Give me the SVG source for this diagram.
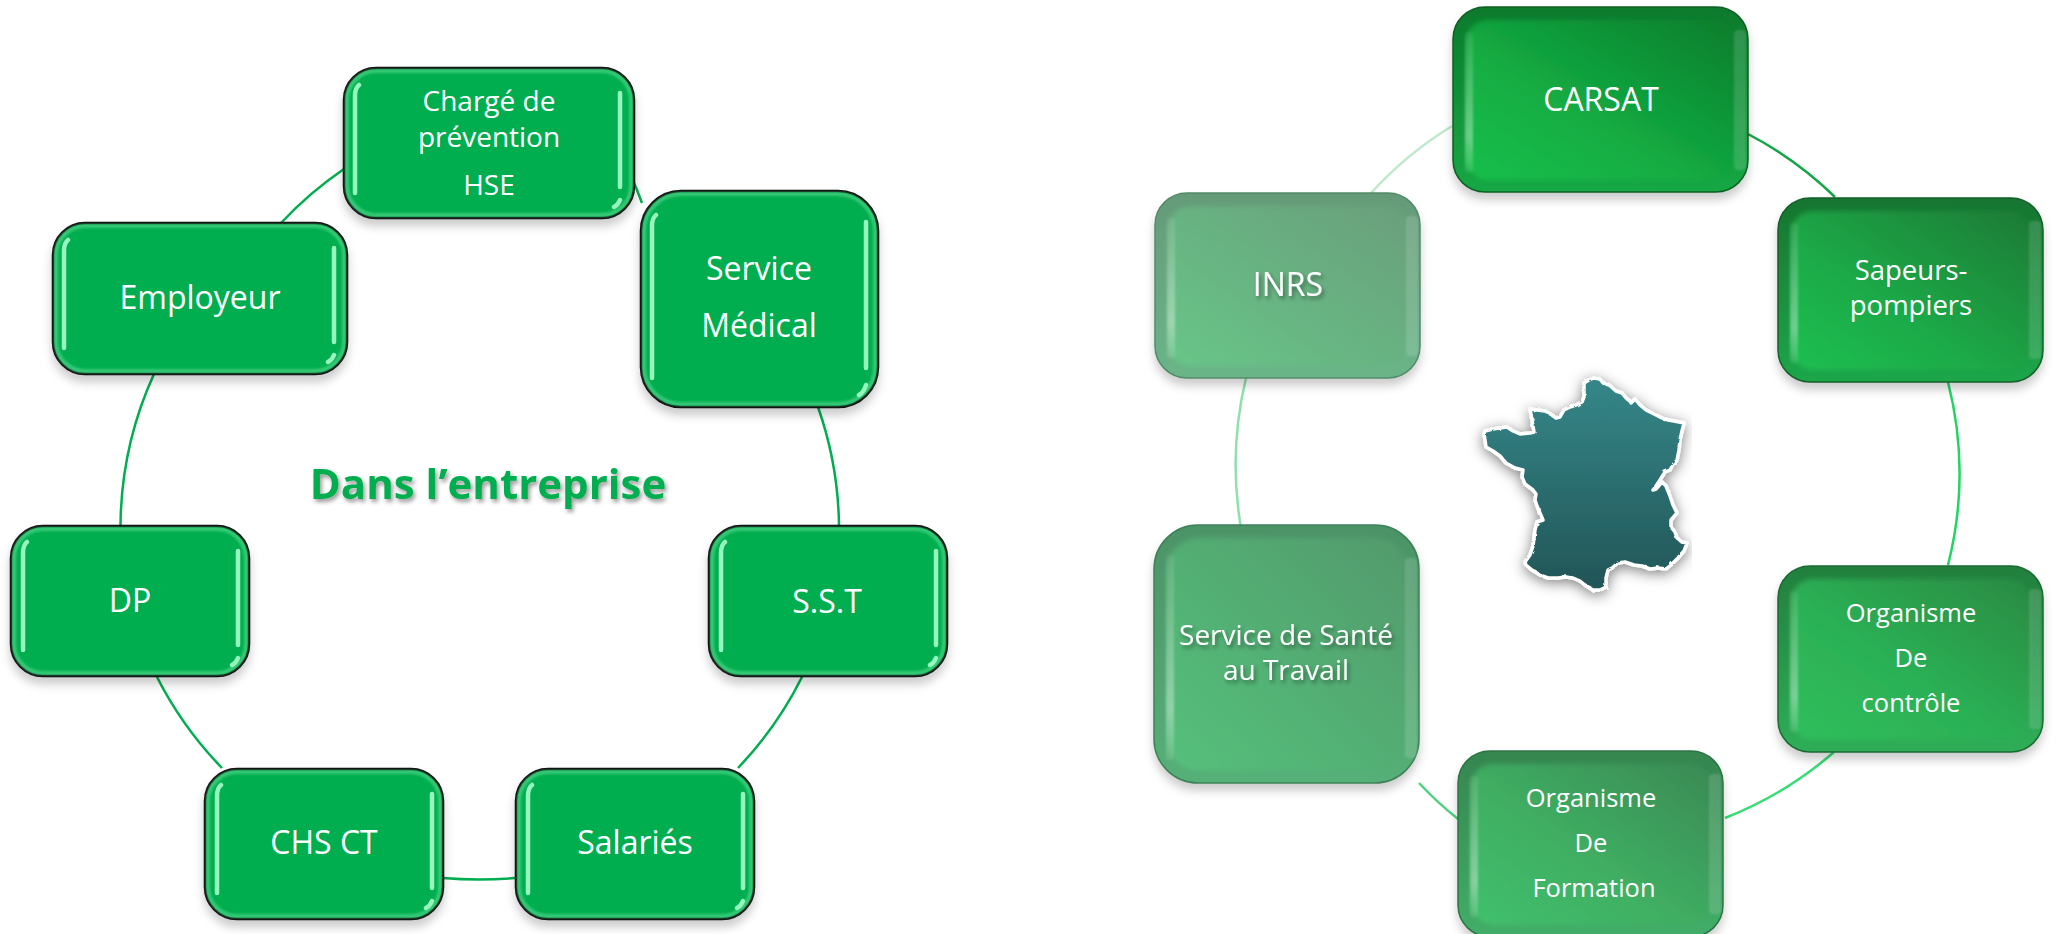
<svg xmlns="http://www.w3.org/2000/svg" width="2056" height="934" viewBox="0 0 2056 934">
<style>
text{font-family:"Open Sans","Noto Sans","Liberation Sans",sans-serif;fill:#fff;text-anchor:middle}
.l{font-size:32px}.m{font-size:28px}.r{font-size:27.500px}.q{font-size:25.500px}
.a{fill:#00AE50;stroke:#111;stroke-width:2.500}
.b{fill:none;stroke:#4fd488;stroke-width:4;opacity:.7;filter:url(#b1)}
.h{fill:none;stroke:#96f5bc;stroke-width:4.500;stroke-linecap:round;filter:url(#b05)}
.c{fill:none;stroke-width:2.500}
.s{filter:url(#sh)}
.ts{filter:url(#ts)}
.in{filter:url(#b2)}
.hl{fill:url(#hlg);filter:url(#b1)}
.hr{fill:#fff;opacity:.14;filter:url(#b1)}
.e1{fill:url(#e1);stroke:#0d5f25;stroke-width:1.500}.f1{fill:url(#f1)}
.e2{fill:url(#e2);stroke:#155f2a;stroke-width:1.500}.f2{fill:url(#f2)}
.e3{fill:url(#e3);stroke:#1c6a33;stroke-width:1.500}.f3{fill:url(#f3)}
.e4{fill:url(#e4);stroke:#2b7544;stroke-width:1.500}.f4{fill:url(#f4)}
.e5{fill:url(#e5);stroke:#3f815a;stroke-width:1.500}.f5{fill:url(#f5)}
.e6{fill:url(#e6);stroke:#558a6a;stroke-width:1.500}.f6{fill:url(#f6)}
</style>
<defs>
<filter id="sh" x="-10%" y="-10%" width="120%" height="125%"><feDropShadow dx="0" dy="7" stdDeviation="5" flood-color="#000" flood-opacity=".2"/></filter>
<filter id="ts" x="-10%" y="-20%" width="120%" height="150%"><feDropShadow dx="2" dy="3" stdDeviation="2" flood-color="#000" flood-opacity=".4"/></filter>
<filter id="b05"><feGaussianBlur stdDeviation=".7"/></filter>
<filter id="b1" x="-30%" y="-5%" width="160%" height="110%"><feGaussianBlur stdDeviation="1.200"/></filter>
<filter id="b2" x="-5%" y="-5%" width="110%" height="110%"><feGaussianBlur stdDeviation="2.500"/></filter>
<filter id="fr" x="-15%" y="-15%" width="130%" height="130%">
<feTurbulence type="fractalNoise" baseFrequency=".18" numOctaves="2" seed="4" result="n"/>
<feDisplacementMap in="SourceGraphic" in2="n" scale="2.500" result="d"/>
<feGaussianBlur in="d" stdDeviation=".7" result="g"/>
<feDropShadow in="g" dx="0" dy="3" stdDeviation="7" flood-color="#000" flood-opacity=".5"/>
</filter>
<linearGradient id="map" x1="0" y1="0" x2="0" y2="1"><stop offset="0" stop-color="#358789"/><stop offset="1" stop-color="#225557"/></linearGradient>
<linearGradient id="hlg" x1="0" y1="0" x2="0" y2="1"><stop offset="0" stop-color="#fff" stop-opacity=".08"/><stop offset=".75" stop-color="#fff" stop-opacity=".35"/><stop offset="1" stop-color="#fff" stop-opacity=".1"/></linearGradient>
<linearGradient id="f1" x1="0" y1="1" x2="1" y2="0"><stop offset="0" stop-color="#12bf4a"/><stop offset=".4" stop-color="#12ad43"/><stop offset="1" stop-color="#0f7d2c"/></linearGradient>
<linearGradient id="e1" x1="0" y1="0" x2="0" y2="1"><stop offset="0" stop-color="#0f7a2c"/><stop offset="1" stop-color="#14a845"/></linearGradient>
<linearGradient id="f2" x1="0" y1="1" x2="1" y2="0"><stop offset="0" stop-color="#1fbf52"/><stop offset=".4" stop-color="#1eaa48"/><stop offset="1" stop-color="#1b7a35"/></linearGradient>
<linearGradient id="e2" x1="0" y1="0" x2="0" y2="1"><stop offset="0" stop-color="#187530"/><stop offset="1" stop-color="#1ea64a"/></linearGradient>
<linearGradient id="f3" x1="0" y1="1" x2="1" y2="0"><stop offset="0" stop-color="#2fbe5c"/><stop offset=".45" stop-color="#2cb055"/><stop offset="1" stop-color="#288a42"/></linearGradient>
<linearGradient id="e3" x1="0" y1="0" x2="0" y2="1"><stop offset="0" stop-color="#237f3d"/><stop offset="1" stop-color="#2eae58"/></linearGradient>
<linearGradient id="f4" x1="0" y1="1" x2="1" y2="0"><stop offset="0" stop-color="#42c06c"/><stop offset=".45" stop-color="#3fae62"/><stop offset="1" stop-color="#3a8a55"/></linearGradient>
<linearGradient id="e4" x1="0" y1="0" x2="0" y2="1"><stop offset="0" stop-color="#35854f"/><stop offset="1" stop-color="#42ae68"/></linearGradient>
<linearGradient id="f5" x1="0" y1="1" x2="1" y2="0"><stop offset="0" stop-color="#55c07c"/><stop offset=".45" stop-color="#52b074"/><stop offset="1" stop-color="#539a6c"/></linearGradient>
<linearGradient id="e5" x1="0" y1="0" x2="0" y2="1"><stop offset="0" stop-color="#4c9366"/><stop offset="1" stop-color="#55b078"/></linearGradient>
<linearGradient id="f6" x1="0" y1="1" x2="1" y2="0"><stop offset="0" stop-color="#68c688"/><stop offset=".45" stop-color="#68b482"/><stop offset="1" stop-color="#6a9f7c"/></linearGradient>
<linearGradient id="e6" x1="0" y1="0" x2="0" y2="1"><stop offset="0" stop-color="#659a78"/><stop offset="1" stop-color="#6ab588"/></linearGradient>
<clipPath id="mapclip"><rect x="1460" y="360" width="232" height="250"/></clipPath>
</defs>
<rect width="2056" height="934" fill="#fff"/>

<g id="connectors">
<path class="c" stroke="#00AE50" d="M344 169A372 372 0 0 0 281 223"/>
<path class="c" stroke="#00AE50" d="M631 176A372 372 0 0 1 642 203"/>
<path class="c" stroke="#00AE50" d="M818 407A372 372 0 0 1 839 525"/>
<path class="c" stroke="#00AE50" d="M802 677A372 372 0 0 1 738 768"/>
<path class="c" stroke="#00AE50" d="M443 878Q479 881 515 878"/>
<path class="c" stroke="#00AE50" d="M222 768A372 372 0 0 1 157 677"/>
<path class="c" stroke="#00AE50" d="M120.500 525A372 372 0 0 1 154 374"/>
<path class="c" stroke="#bfe8cc" d="M1452 126A372 372 0 0 0 1371 193"/>
<path class="c" stroke="#12a648" d="M1748 134A372 372 0 0 1 1835 197"/>
<path class="c" stroke="#22d565" d="M1948 382A372 372 0 0 1 1948 565"/>
<path class="c" stroke="#36dd74" d="M1834 752A372 372 0 0 1 1725 818"/>
<path class="c" stroke="#4fd080" d="M1458 819A372 372 0 0 1 1419 783"/>
<path class="c" stroke="#8ee0ac" d="M1240.500 525A372 372 0 0 1 1246 378"/>
</g>

<g id="node-charge">
<rect class="a s" x="344" y="68" width="290" height="150" rx="32"/>
<rect class="b" x="347" y="71" width="284" height="144" rx="29"/>
<path class="h" d="M355 193V96Q355 88 359 85M620 93V187M620 200Q618 205 614 207"/>
<text class="m" x="489" y="111">Chargé de</text><text class="m" x="489" y="147">prévention</text><text class="m" x="489" y="195">HSE</text>
</g>
<g id="node-employeur">
<rect class="a s" x="53" y="223" width="294" height="151" rx="32"/>
<rect class="b" x="56" y="226" width="288" height="145" rx="29"/>
<path class="h" d="M64 348V251Q64 243 68 240M334 248V342M334 355Q332 360 328 362"/>
<text class="l" x="200" y="309">Employeur</text>
</g>
<g id="node-service-medical">
<rect class="a s" x="641" y="191" width="237" height="216" rx="40"/>
<rect class="b" x="644" y="194" width="231" height="210" rx="37"/>
<path class="h" d="M652 378V226Q652 218 656 215M866 222V368M866 385Q864 392 859 395"/>
<text class="l" x="759" y="280">Service</text><text class="l" x="759" y="337">Médical</text>
</g>
<g id="node-dp">
<rect class="a s" x="11" y="526" width="238" height="150" rx="32"/>
<rect class="b" x="14" y="529" width="232" height="144" rx="29"/>
<path class="h" d="M23 650V553Q23 545 27 542M238 551V645M238 658Q236 663 232 665"/>
<text class="l" x="130" y="612">DP</text>
</g>
<g id="node-sst">
<rect class="a s" x="709" y="526" width="238" height="150" rx="32"/>
<rect class="b" x="712" y="529" width="232" height="144" rx="29"/>
<path class="h" d="M721 650V553Q721 545 725 542M936 551V645M936 658Q934 663 930 665"/>
<text class="l" x="827" y="613">S.S.T</text>
</g>
<g id="node-chsct">
<rect class="a s" x="205" y="769" width="238" height="150" rx="32"/>
<rect class="b" x="208" y="772" width="232" height="144" rx="29"/>
<path class="h" d="M217 893V796Q217 788 221 785M432 794V888M432 901Q430 906 426 908"/>
<text class="l" x="324" y="854">CHS CT</text>
</g>
<g id="node-salaries">
<rect class="a s" x="516" y="769" width="238" height="150" rx="32"/>
<rect class="b" x="519" y="772" width="232" height="144" rx="29"/>
<path class="h" d="M528 893V796Q528 788 532 785M743 794V888M743 901Q741 906 737 908"/>
<text class="l" x="635" y="854">Salariés</text>
</g>
<text class="ts" x="488" y="499" font-size="42" font-weight="700" style="fill:#00AE50">Dans l’entreprise</text>

<g id="node-carsat">
<rect class="e1 s" x="1453" y="7" width="295" height="185" rx="32"/>
<rect class="f1 in" x="1466" y="20" width="269" height="160" rx="22"/>
<rect class="hl" x="1465" y="32" width="8" height="140" rx="3"/><rect class="hr" x="1734" y="30" width="12" height="140" rx="4"/>
<text class="l" x="1601" y="111">CARSAT</text>
</g>
<g id="node-sapeurs">
<rect class="e2 s" x="1778" y="198" width="265" height="184" rx="32"/>
<rect class="f2 in" x="1791" y="211" width="239" height="159" rx="22"/>
<rect class="hl" x="1790" y="223" width="8" height="140" rx="3"/><rect class="hr" x="2029" y="221" width="12" height="138" rx="4"/>
<text class="r" x="1911" y="280">Sapeurs-</text><text class="r" x="1911" y="315">pompiers</text>
</g>
<g id="node-controle">
<rect class="e3 s" x="1778" y="566" width="265" height="186" rx="32"/>
<rect class="f3 in" x="1791" y="579" width="239" height="161" rx="22"/>
<rect class="hl" x="1790" y="591" width="8" height="141" rx="3"/><rect class="hr" x="2029" y="589" width="12" height="140" rx="4"/>
<text class="q" x="1911" y="622">Organisme</text><text class="q" x="1911" y="667">De</text><text class="q" x="1911" y="712">contrôle</text>
</g>
<g id="node-formation">
<rect class="e4 s" x="1458" y="751" width="265" height="186" rx="32"/>
<rect class="f4 in" x="1471" y="764" width="239" height="161" rx="22"/>
<rect class="hl" x="1470" y="776" width="8" height="141" rx="3"/><rect class="hr" x="1709" y="774" width="12" height="140" rx="4"/>
<text class="q" x="1591" y="807">Organisme</text><text class="q" x="1591" y="852">De</text><text class="q" x="1594" y="897">Formation</text>
</g>
<g id="node-sante">
<rect class="e5 s" x="1154" y="525" width="265" height="258" rx="44"/>
<rect class="f5 in" x="1167" y="538" width="239" height="233" rx="32"/>
<rect class="hl" x="1166" y="555" width="8" height="205" rx="3"/><rect class="hr" x="1405" y="558" width="12" height="200" rx="4"/>
<text class="r ts" x="1286" y="645" style="font-size:28px">Service de Santé</text><text class="r ts" x="1286" y="680" style="font-size:28px">au Travail</text>
</g>
<g id="node-inrs">
<rect class="e6 s" x="1155" y="193" width="265" height="185" rx="32"/>
<rect class="f6 in" x="1168" y="206" width="239" height="160" rx="22"/>
<rect class="hl" x="1167" y="218" width="8" height="140" rx="3"/><rect class="hr" x="1406" y="216" width="12" height="140" rx="4"/>
<text class="l ts" x="1288" y="296">INRS</text>
</g>

<g id="france" clip-path="url(#mapclip)">
<path filter="url(#fr)" fill="url(#map)" stroke="#fff" stroke-width="3.500" stroke-linejoin="round" d="M1584 383L1589 380L1594 378L1600 379L1603 383L1609 385L1616 391L1622 393L1626 398L1630 401L1631 403L1635 399L1640 405L1646 410L1652 413L1660 417L1668 420L1674 421L1684 423L1682 431L1680 440L1679 450L1677 460L1672 466L1670 470L1665 472L1660 480L1656 486L1653 490L1656 489L1662 482L1666 486L1670 496L1673 505L1677 513L1671 520L1671 527L1675 532L1677 538L1682 542L1687 543L1684 551L1678 558L1671 565L1666 569L1658 568L1650 569L1642 566L1634 565L1625 562L1618 563L1612 568L1608 570L1606 578L1606 587L1600 590L1593 590L1586 586L1580 581L1573 578L1566 577L1558 578L1548 578L1540 575L1532 570L1526 565L1525 562L1530 555L1533 546L1535 530L1537 522L1543 520L1540 513L1537 506L1535 500L1536 494L1533 490L1525 484L1522 477L1523 470L1515 468L1506 463L1500 456L1493 451L1486 447L1485 440L1484 434L1485 431L1493 429L1500 428L1507 427L1513 431L1520 434L1530 433L1534 432L1532 420L1530 409L1537 410L1545 411L1552 415L1556 418L1560 417L1564 410L1570 407L1576 405L1582 402L1584 397Z"/>
</g>
</svg>
